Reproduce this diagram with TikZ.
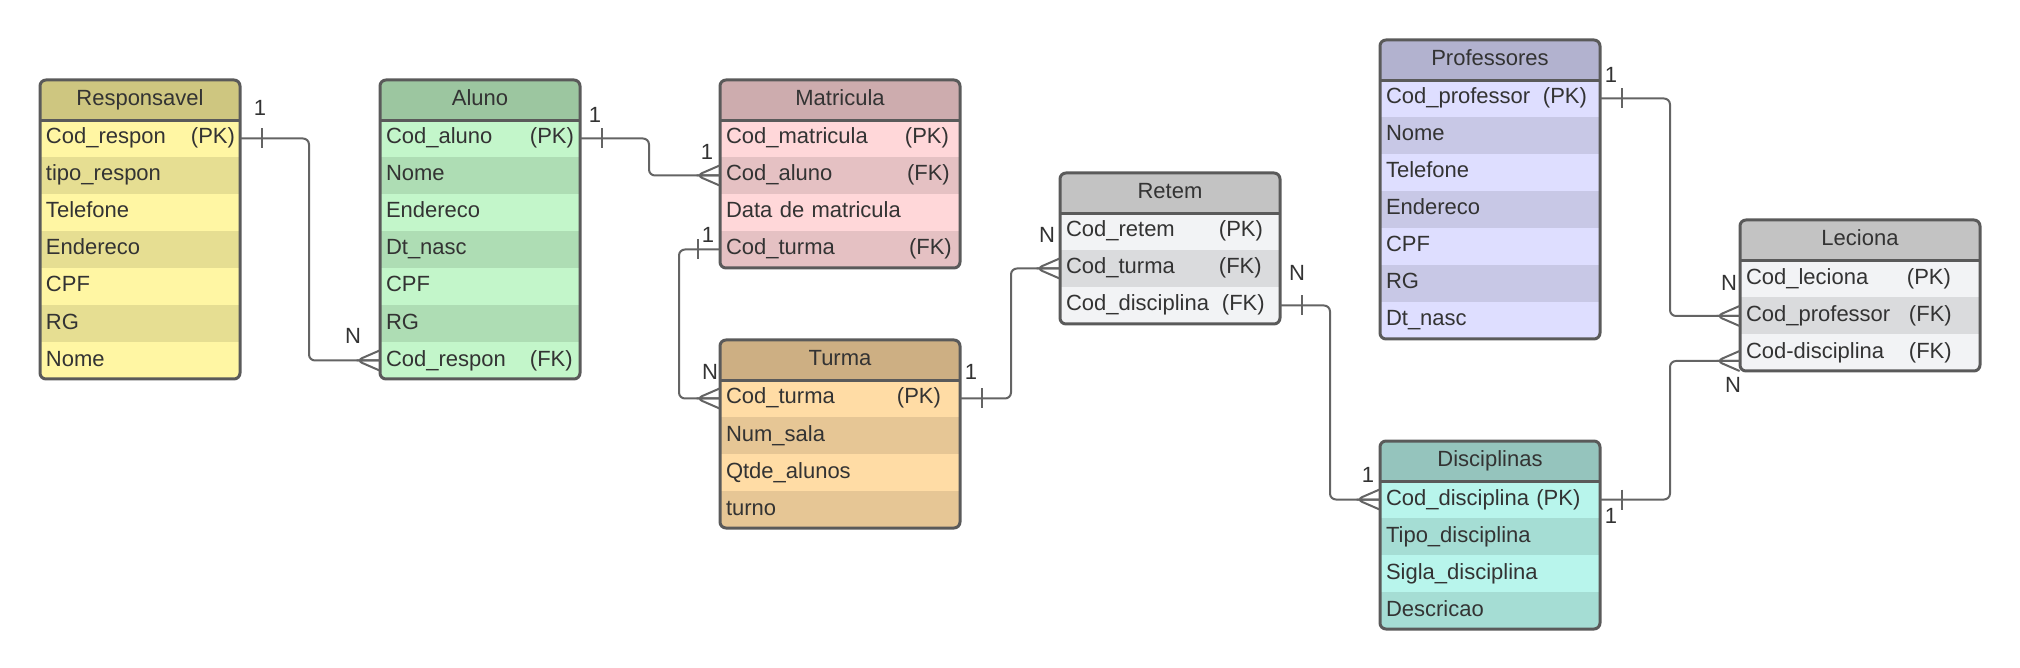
\documentclass[tikz,border=0pt]{standalone}
\usepackage{fontspec}
\setmainfont{Liberation Sans}

\definecolor{txt}{HTML}{333333}
\definecolor{edge}{HTML}{5A5A5A}
\definecolor{link}{HTML}{646464}
\definecolor{resphd}{HTML}{CEC680}
\definecolor{respa}{HTML}{FFF6A3}
\definecolor{respb}{HTML}{E6DE92}
\definecolor{alunohd}{HTML}{9CC6A0}
\definecolor{alunoa}{HTML}{C3F6CA}
\definecolor{alunob}{HTML}{AEDDB4}
\definecolor{matrhd}{HTML}{CDACAE}
\definecolor{matra}{HTML}{FFD7D9}
\definecolor{matrb}{HTML}{E5C1C3}
\definecolor{turmahd}{HTML}{CDAF83}
\definecolor{turmaa}{HTML}{FFDCA5}
\definecolor{turmab}{HTML}{E6C695}
\definecolor{grayhd}{HTML}{C3C3C3}
\definecolor{graya}{HTML}{F2F3F5}
\definecolor{grayb}{HTML}{DADBDD}
\definecolor{profhd}{HTML}{B2B2CF}
\definecolor{profa}{HTML}{DEDEFF}
\definecolor{profb}{HTML}{C8C8E6}
\definecolor{dischd}{HTML}{95C4BD}
\definecolor{disca}{HTML}{B8F5EC}
\definecolor{discb}{HTML}{A5DDD4}

\tikzset{
  hd/.style={inner sep=0pt, inner xsep=3pt, minimum height=20pt, text height=8pt, text depth=2.5pt, align=center, text=txt, font=\fontsize{11}{13}\selectfont},
  rw/.style={inner sep=0pt, inner xsep=3pt, minimum height=18.5pt, text height=8pt, text depth=2.5pt, align=left, text=txt, font=\fontsize{11}{13}\selectfont},
  w100/.style={text width=94pt},
  w110/.style={text width=104pt},
  w120/.style={text width=114pt},
  frame/.style={draw=edge, line width=1.5pt, rounded corners=3pt},
  sep/.style={draw=edge, line width=1.5pt},
  rel/.style={draw=link, line width=1pt, rounded corners=3pt},
  lbl/.style={inner sep=0pt, text=txt, font=\fontsize{11}{13}\selectfont},
  onemark/.pic={\draw[rel] (22,-10) -- (22,10);},
  manymark/.pic={\draw[rel] (0,-10) -- (-23,0) -- (0,10) (-23,0) -- (0,0);},
}

\begin{document}
\begin{tikzpicture}[x=0.5pt, y=-0.5pt]
\useasboundingbox (0,0) rectangle (2020,668);

\begin{scope}
\clip[rounded corners=3pt] (40,80) rectangle (240,379);
\node[hd, w100, fill=resphd] (resp) at (140,100) {Responsavel};
\node[rw, w100, fill=respa] (resp1) at (140,138.5) {\makebox[72.5pt][l]{Cod\_respon}(PK)};
\node[rw, w100, fill=respb] (resp2) at (140,175.5) {tipo\_respon};
\node[rw, w100, fill=respa] (resp3) at (140,212.5) {Telefone};
\node[rw, w100, fill=respb] (resp4) at (140,249.5) {Endereco};
\node[rw, w100, fill=respa] (resp5) at (140,286.5) {CPF};
\node[rw, w100, fill=respb] (resp6) at (140,323.5) {RG};
\node[rw, w100, fill=respa] (resp7) at (140,360.5) {Nome};
\end{scope}
\draw[frame] (40,80) rectangle (240,379);
\draw[sep] (resp.south west) -- (resp.south east);

\begin{scope}
\clip[rounded corners=3pt] (380,80) rectangle (580,379);
\node[hd, w100, fill=alunohd] (aluno) at (480,100) {Aluno};
\node[rw, w100, fill=alunoa] (aluno1) at (480,138.5) {\makebox[72pt][l]{Cod\_aluno}(PK)};
\node[rw, w100, fill=alunob] (aluno2) at (480,175.5) {Nome};
\node[rw, w100, fill=alunoa] (aluno3) at (480,212.5) {Endereco};
\node[rw, w100, fill=alunob] (aluno4) at (480,249.5) {Dt\_nasc};
\node[rw, w100, fill=alunoa] (aluno5) at (480,286.5) {CPF};
\node[rw, w100, fill=alunob] (aluno6) at (480,323.5) {RG};
\node[rw, w100, fill=alunoa] (aluno7) at (480,360.5) {\makebox[72pt][l]{Cod\_respon}(FK)};
\end{scope}
\draw[frame] (380,80) rectangle (580,379);
\draw[sep] (aluno.south west) -- (aluno.south east);

\begin{scope}
\clip[rounded corners=3pt] (720,80) rectangle (960,268);
\node[hd, w120, fill=matrhd] (matr) at (840,100) {Matricula};
\node[rw, w120, fill=matra] (matr1) at (840,138.5) {\makebox[89.5pt][l]{Cod\_matricula}(PK)};
\node[rw, w120, fill=matrb] (matr2) at (840,175.5) {\makebox[90.5pt][l]{Cod\_aluno}(FK)};
\node[rw, w120, fill=matra] (matr3) at (840,212.5) {Data de matricula};
\node[rw, w120, fill=matrb] (matr4) at (840,249.5) {\makebox[91.5pt][l]{Cod\_turma}(FK)};
\end{scope}
\draw[frame] (720,80) rectangle (960,268);
\draw[sep] (matr.south west) -- (matr.south east);

\begin{scope}
\clip[rounded corners=3pt] (720,340) rectangle (960,528);
\node[hd, w120, fill=turmahd] (turma) at (840,360) {Turma};
\node[rw, w120, fill=turmaa] (turma1) at (840,398.5) {\makebox[85.5pt][l]{Cod\_turma}(PK)};
\node[rw, w120, fill=turmab] (turma2) at (840,435.5) {Num\_sala};
\node[rw, w120, fill=turmaa] (turma3) at (840,472.5) {Qtde\_alunos};
\node[rw, w120, fill=turmab] (turma4) at (840,509.5) {turno};
\end{scope}
\draw[frame] (720,340) rectangle (960,528);
\draw[sep] (turma.south west) -- (turma.south east);

\begin{scope}
\clip[rounded corners=3pt] (1060,173) rectangle (1280,324);
\node[hd, w110, fill=grayhd] (retem) at (1170,193) {Retem};
\node[rw, w110, fill=graya] (retem1) at (1170,231.5) {\makebox[76.5pt][l]{Cod\_retem}(PK)};
\node[rw, w110, fill=grayb] (retem2) at (1170,268.5) {\makebox[76.5pt][l]{Cod\_turma}(FK)};
\node[rw, w110, fill=graya] (retem3) at (1170,305.5) {\makebox[78pt][l]{Cod\_disciplina}(FK)};
\end{scope}
\draw[frame] (1060,173) rectangle (1280,324);
\draw[sep] (retem.south west) -- (retem.south east);

\begin{scope}
\clip[rounded corners=3pt] (1380,40) rectangle (1600,339);
\node[hd, w110, fill=profhd] (prof) at (1490,60) {Professores};
\node[rw, w110, fill=profa] (prof1) at (1490,98.5) {\makebox[78.5pt][l]{Cod\_professor}(PK)};
\node[rw, w110, fill=profb] (prof2) at (1490,135.5) {Nome};
\node[rw, w110, fill=profa] (prof3) at (1490,172.5) {Telefone};
\node[rw, w110, fill=profb] (prof4) at (1490,209.5) {Endereco};
\node[rw, w110, fill=profa] (prof5) at (1490,246.5) {CPF};
\node[rw, w110, fill=profb] (prof6) at (1490,283.5) {RG};
\node[rw, w110, fill=profa] (prof7) at (1490,320.5) {Dt\_nasc};
\end{scope}
\draw[frame] (1380,40) rectangle (1600,339);
\draw[sep] (prof.south west) -- (prof.south east);

\begin{scope}
\clip[rounded corners=3pt] (1740,220) rectangle (1980,371);
\node[hd, w120, fill=grayhd] (lec) at (1860,240.5) {Leciona};
\node[rw, w120, fill=graya] (lec1) at (1860,279) {\makebox[80.5pt][l]{Cod\_leciona}(PK)};
\node[rw, w120, fill=grayb] (lec2) at (1860,316) {\makebox[81.5pt][l]{Cod\_professor}(FK)};
\node[rw, w120, fill=graya] (lec3) at (1860,353) {\makebox[81.5pt][l]{Cod-disciplina}(FK)};
\end{scope}
\draw[frame] (1740,220) rectangle (1980,371);
\draw[sep] (lec.south west) -- (lec.south east);

\begin{scope}
\clip[rounded corners=3pt] (1380,441) rectangle (1600,629);
\node[hd, w110, fill=dischd] (disc) at (1490,461) {Disciplinas};
\node[rw, w110, fill=disca] (disc1) at (1490,499.5) {Cod\_disciplina (PK)};
\node[rw, w110, fill=discb] (disc2) at (1490,536.5) {Tipo\_disciplina};
\node[rw, w110, fill=disca] (disc3) at (1490,573.5) {Sigla\_disciplina};
\node[rw, w110, fill=discb] (disc4) at (1490,610.5) {Descricao};
\end{scope}
\draw[frame] (1380,441) rectangle (1600,629);
\draw[sep] (disc.south west) -- (disc.south east);

\coordinate (lec3in) at ([yshift=-4pt]lec3.west);

\draw[rel] (resp1.east) -| (309,250) |- (aluno7.west);
\draw[rel] (aluno1.east) -| (649,160) |- (matr2.west);
\draw[rel] (matr4.west) -| (679,320) |- (turma1.west);
\draw[rel] (turma1.east) -| (1011,330) |- (retem2.west);
\draw[rel] (retem3.east) -| (1330,400) |- (disc1.west);
\draw[rel] (disc1.east) -| (1670,430) |- (lec3in);
\draw[rel] (prof1.east) -| (1670,200) |- (lec2.west);

\pic at (resp1.east) {onemark};
\pic at (aluno7.west) {manymark};
\pic at (aluno1.east) {onemark};
\pic at (matr2.west) {manymark};
\pic[xscale=-1] at (matr4.west) {onemark};
\pic at (turma1.west) {manymark};
\pic at (turma1.east) {onemark};
\pic at (retem2.west) {manymark};
\pic at (retem3.east) {onemark};
\pic at (disc1.west) {manymark};
\pic at (disc1.east) {onemark};
\pic at (lec3in) {manymark};
\pic at (prof1.east) {onemark};
\pic at (lec2.west) {manymark};

\node[lbl] (n1) at (260,108) {1};
\node[lbl] (n2) at (353,336) {N};
\node[lbl] (n3) at (595,115) {1};
\node[lbl] (n4) at (707,152) {1};
\node[lbl] (n5) at (708,235) {1};
\node[lbl] (n6) at (710,372) {N};
\node[lbl] (n7) at (971,372) {1};
\node[lbl] (n8) at (1047,235) {N};
\node[lbl] (n9) at (1297,273) {N};
\node[lbl] (n10) at (1368,475) {1};
\node[lbl] (n11) at (1611,516) {1};
\node[lbl] (n12) at (1733,385) {N};
\node[lbl] (n13) at (1611,75) {1};
\node[lbl] (n14) at (1729,283) {N};
\end{tikzpicture}
\end{document}
